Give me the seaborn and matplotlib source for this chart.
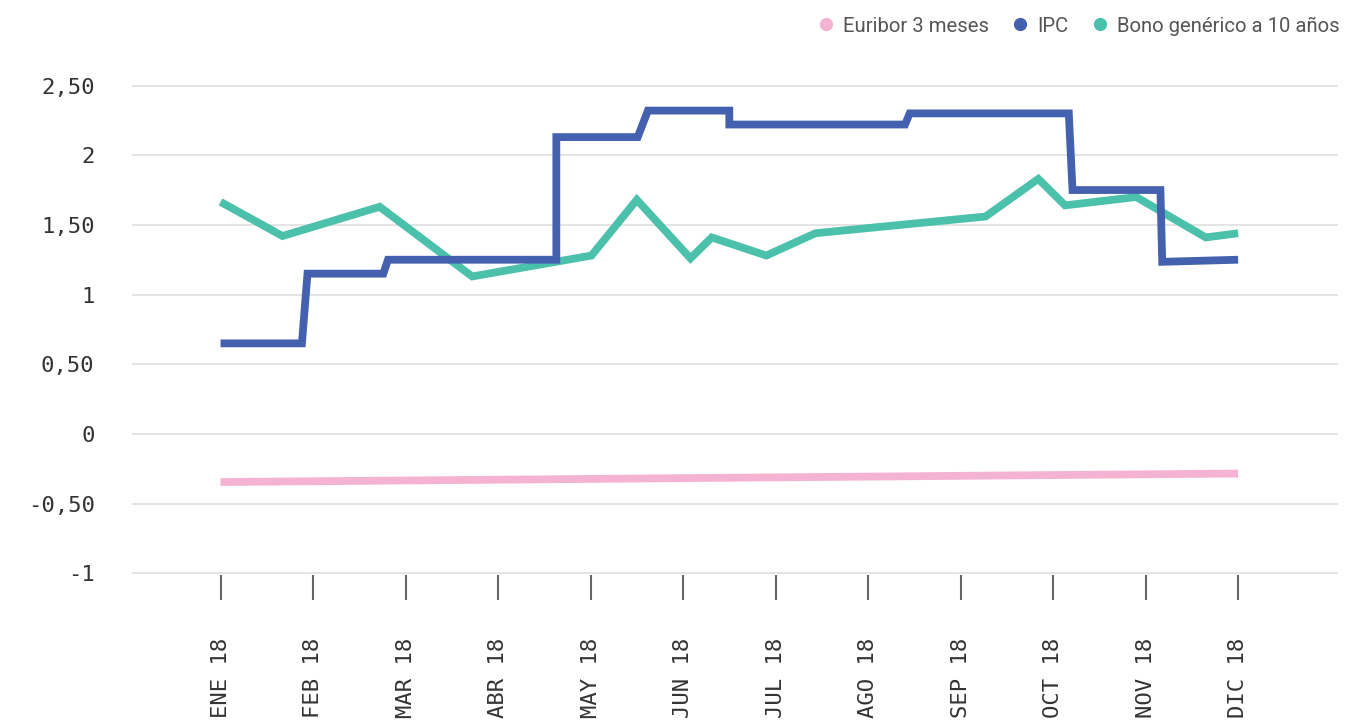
import matplotlib
matplotlib.use("Agg")
import matplotlib.pyplot as plt
from matplotlib.lines import Line2D
import pandas as pd
import seaborn as sns

# ---------------- data ----------------
month_labels = ["ENE 18", "FEB 18", "MAR 18", "ABR 18", "MAY 18", "JUN 18",
                "JUL 18", "AGO 18", "SEP 18", "OCT 18", "NOV 18", "DIC 18"]

ytick_values = [-1, -0.5, 0, 0.5, 1, 1.5, 2, 2.5]
ytick_labels = ["-1", "-0,50", "0", "0,50", "1", "1,50", "2", "2,50"]

# x positions expressed in months since ENE 18
euribor_x = [0.0, 5.2, 11.0]
euribor_y = [-0.345, -0.316, -0.284]

ipc_x = [0.0, 0.88, 0.94, 1.76, 1.81, 3.63, 3.63, 4.51, 4.62, 5.50, 5.50,
         7.40, 7.45, 9.17, 9.21, 10.16, 10.18, 11.0]
ipc_y = [0.65, 0.65, 1.15, 1.15, 1.25, 1.25, 2.13, 2.13, 2.32, 2.32, 2.22,
         2.22, 2.30, 2.30, 1.75, 1.75, 1.235, 1.25]

bono_x = [0.0, 0.67, 1.72, 2.72, 4.01, 4.50, 5.08, 5.31, 5.90, 6.43, 8.27,
          8.84, 9.13, 9.90, 10.65, 11.0]
bono_y = [1.665, 1.42, 1.63, 1.13, 1.28, 1.68, 1.26, 1.41, 1.28, 1.44, 1.56,
          1.83, 1.64, 1.70, 1.41, 1.44]

series_names = ["Euribor 3 meses", "IPC", "Bono genérico a 10 años"]
series_colors = ["#F4B3D2", "#4361AE", "#4BC0AB"]

# ---------------- style ----------------
sns.set_theme(style="white")
plt.rcParams["font.family"] = ["DejaVu Sans Mono", "DejaVu Sans"]

W, H = 1345, 722
fig = plt.figure(figsize=(W / 100, H / 100), dpi=100)
ax = fig.add_axes([132 / W, 1 - 575 / H, (1338 - 132) / W, (575 - 60) / H])

df_eur = pd.DataFrame({"x": euribor_x, "y": euribor_y})
df_ipc = pd.DataFrame({"x": ipc_x, "y": ipc_y})
df_bono = pd.DataFrame({"x": bono_x, "y": bono_y})

lw = 5.6
sns.lineplot(data=df_eur, x="x", y="y", ax=ax, color=series_colors[0],
             linewidth=lw, estimator=None, sort=False, legend=False, zorder=3)
sns.lineplot(data=df_bono, x="x", y="y", ax=ax, color=series_colors[2],
             linewidth=lw, estimator=None, sort=False, legend=False, zorder=4)
sns.lineplot(data=df_ipc, x="x", y="y", ax=ax, color=series_colors[1],
             linewidth=lw, estimator=None, sort=False, legend=False, zorder=5)
for ln in ax.lines:
    ln.set_solid_capstyle("butt")
    ln.set_solid_joinstyle("miter")

ax.set_xlim(-0.957, 12.08)
ax.set_ylim(-1.012, 2.683)

ax.set_xticks(range(len(month_labels)))
ax.set_xticklabels(month_labels, rotation=90, fontsize=16, color="#333333")
ax.set_yticks(ytick_values)
ax.set_yticklabels(ytick_labels, fontsize=16, color="#333333")
for t in ax.get_yticklabels():
    t.set_y(t.get_position()[1])

ax.tick_params(axis="x", direction="out", length=18, width=1.5, color="#666666",
               pad=27, bottom=True)
ax.tick_params(axis="y", length=0, pad=27)

ax.grid(axis="y", color="#E2E2E2", linewidth=1.3)
ax.grid(axis="x", visible=False)
for sp in ax.spines.values():
    sp.set_visible(False)
ax.set_xlabel("")
ax.set_ylabel("")

handles = [Line2D([], [], marker="o", linestyle="", color=c, markersize=8.5)
           for c in series_colors]
fig.legend(handles, series_names, loc="center right",
           bbox_to_anchor=(1340 / W, 1 - 26 / H), ncol=3, frameon=False,
           prop={"family": "Roboto", "size": 14.6}, labelcolor="#555555",
           handlelength=0.7, handletextpad=0.5, columnspacing=1.2,
           borderpad=0, borderaxespad=0)

fig.savefig("out.png", dpi=100, facecolor="white")
